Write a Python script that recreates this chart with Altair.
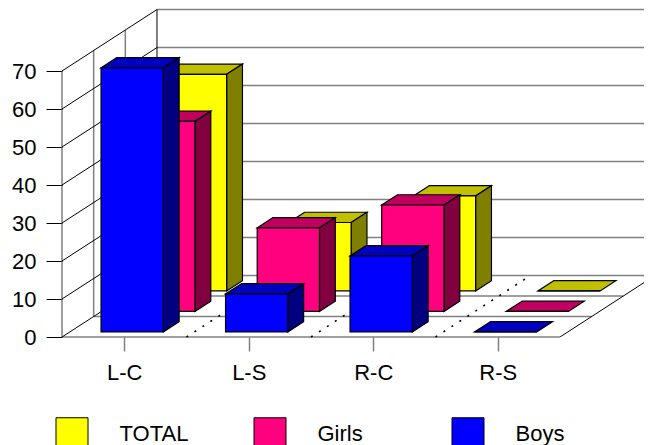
import altair as alt
import pandas as pd

CATEGORIES = ["L-C", "L-S", "R-C", "R-S"]
BOYS = [69.5, 10, 20, 0]
GIRLS = [50, 22, 28, 0]
TOTAL = [57, 18, 25, 0]
Y_TICKS = [0, 10, 20, 30, 40, 50, 60, 70]
SERIES = ["TOTAL", "Girls", "Boys"]          # back to front
VALUES = {"TOTAL": TOTAL, "Girls": GIRLS, "Boys": BOYS}
SLOT = {"Boys": 0, "Girls": 1, "TOTAL": 2}
FRONT = {"TOTAL": "#FFFF00", "Girls": "#FF007F", "Boys": "#0000FF"}
TOP = {"TOTAL": "#C0C000", "Girls": "#C0005F", "Boys": "#0000C0"}
SIDE = {"TOTAL": "#808000", "Girls": "#800040", "Boys": "#000080"}

# oblique projection, in axis units
DX = 0.763
DY = 16.18
XMAX = 582 / 124.5
YMAX = 329 / 3.8
GRAY = "#808080"
FONT = "Liberation Sans"
FS = 22
BAR_STROKE = 1.2

xs = alt.Scale(domain=[0, XMAX], nice=False, zero=False)
ys = alt.Scale(domain=[0, YMAX], nice=False, zero=False)

axis_x = alt.Axis(values=[i + 0.5 for i in range(len(CATEGORIES))], title=None, domain=False, grid=False,
                  tickColor=GRAY, tickWidth=1.5, tickSize=14, labelPadding=11, labelFont=FONT, labelFontSize=FS,
                  labelColor="black", labelExpr="%s[floor(datum.value)]" % CATEGORIES, labelFlush=False)
axis_y = alt.Axis(values=Y_TICKS, title=None, domain=False, grid=False, tickColor="black", tickWidth=1,
                  tickSize=16, labelPadding=10, labelFont=FONT, labelFontSize=FS, labelColor="black")


def X(f="x", **k):
    return alt.X(f"{f}:Q", scale=xs, axis=axis_x, **k)


def Y(f="y", **k):
    return alt.Y(f"{f}:Q", scale=ys, axis=axis_y, **k)


layers = []

# back wall lines
back = pd.DataFrame({"x": [DX] * len(Y_TICKS), "x2": [XMAX] * len(Y_TICKS), "y": [v + DY for v in Y_TICKS]})
layers.append(alt.Chart(back).mark_rule(color=GRAY, strokeWidth=1.5).encode(x=X(), x2="x2:Q", y=Y()))

# floor depth lines
floor = pd.DataFrame([{"x": d * DX, "x2": min(4 + d * DX, XMAX), "y": d * DY} for d in (0, 1 / 3, 2 / 3)])
layers.append(alt.Chart(floor).mark_rule(color=GRAY, strokeWidth=1.5).encode(x=X(), x2="x2:Q", y=Y()))

# front wall edge
wall_front = pd.DataFrame({"x": [0.0], "y": [0.0], "y2": [70.0]})
layers.append(alt.Chart(wall_front).mark_rule(color="#404040", strokeWidth=1).encode(x=X(), y=Y(), y2="y2:Q"))

# left wall verticals
vert = pd.DataFrame([{"x": d * DX, "y": d * DY, "y2": 70 + d * DY} for d in (1 / 3, 2 / 3)])
layers.append(alt.Chart(vert).mark_rule(color=GRAY, strokeWidth=1.5).encode(x=X(), y=Y(), y2="y2:Q"))
vert_back = pd.DataFrame([{"x": DX, "y": DY, "y2": 70 + DY}])
layers.append(alt.Chart(vert_back).mark_rule(color="black", strokeWidth=1).encode(x=X(), y=Y(), y2="y2:Q"))

# left wall diagonals
diag = []
for v in Y_TICKS:
    diag += [{"id": v, "x": 0, "y": v}, {"id": v, "x": DX, "y": v + DY}]
layers.append(alt.Chart(pd.DataFrame(diag)).mark_line(color="black", strokeWidth=1).encode(
    x=X(), y=Y(), detail="id:N"))

# floor right edge
edge = [{"x": 4, "y": 0}, {"x": 4 + DX, "y": DY}]
layers.append(alt.Chart(pd.DataFrame(edge)).mark_line(color="black", strokeWidth=1, clip=True).encode(x=X(), y=Y()))

# dotted category dividers on the floor
dots = []
for k in (1, 2, 3):
    dots += [{"id": k, "x": k, "y": 0}, {"id": k, "x": k + DX, "y": DY}]
layers.append(alt.Chart(pd.DataFrame(dots)).mark_line(color="black", strokeWidth=1.6, strokeDash=[2, 7.5]).encode(
    x=X(), y=Y(), detail="id:N"))

# bars
for s in SERIES:
    front, tops, sides = [], [], []
    for i, v in enumerate(VALUES[s]):
        d0 = (SLOT[s] + 0.25) / 3
        d1 = (SLOT[s] + 0.75) / 3
        x0 = i + 0.25 + d0 * DX
        x1 = i + 0.75 + d0 * DX
        y0 = d0 * DY
        y1 = y0 + v
        ax = (d1 - d0) * DX
        ay = (d1 - d0) * DY
        front.append({"series": s, "x": x0, "x2": x1, "y": y0, "y2": y1})
        tops += [{"id": i, "y": y1, "x": x0, "x2": x1}, {"id": i, "y": y1 + ay, "x": x0 + ax, "x2": x1 + ax}]
        if v > 0:
            sides += [{"id": i, "x": x1, "y": y0, "y2": y1}, {"id": i, "x": x1 + ax, "y": y0 + ay, "y2": y1 + ay}]
    layers.append(alt.Chart(pd.DataFrame(tops)).mark_area(
        orient="horizontal", fill=TOP[s], stroke="black", strokeWidth=BAR_STROKE, opacity=1).encode(
        y=Y(), x=X(), x2="x2:Q", detail="id:N"))
    layers.append(alt.Chart(pd.DataFrame(sides)).mark_area(
        orient="vertical", fill=SIDE[s], stroke="black", strokeWidth=BAR_STROKE, opacity=1).encode(
        x=X(), y=Y(), y2="y2:Q", detail="id:N"))
    layers.append(alt.Chart(pd.DataFrame(front)).mark_rect(stroke="black", strokeWidth=BAR_STROKE, opacity=1).encode(
        x=X(), x2="x2:Q", y=Y(), y2="y2:Q",
        fill=alt.Fill("series:N", scale=alt.Scale(domain=SERIES, range=[FRONT[k] for k in SERIES]),
                      legend=alt.Legend(orient="none", legendX=-6.5, legendY=409, columns=3, direction="horizontal",
                                        title=None, symbolType="square", symbolSize=1024, symbolStrokeColor="black",
                                        symbolStrokeWidth=1, symbolOpacity=1, labelOffset=31, labelFont=FONT,
                                        labelFontSize=FS, labelColor="black", labelLimit=200, gridAlign="all",
                                        columnPadding=63, padding=0, offset=0))))

chart = alt.layer(*layers).properties(
    width=582, height=329,
    autosize=alt.AutoSizeParams(type="none", contains="content"),
    padding={"left": 54, "top": 0, "right": 0, "bottom": 108},
    background="white",
).configure_view(stroke=None)

chart.save("out.html", embed_options={"renderer": "svg", "actions": False})
